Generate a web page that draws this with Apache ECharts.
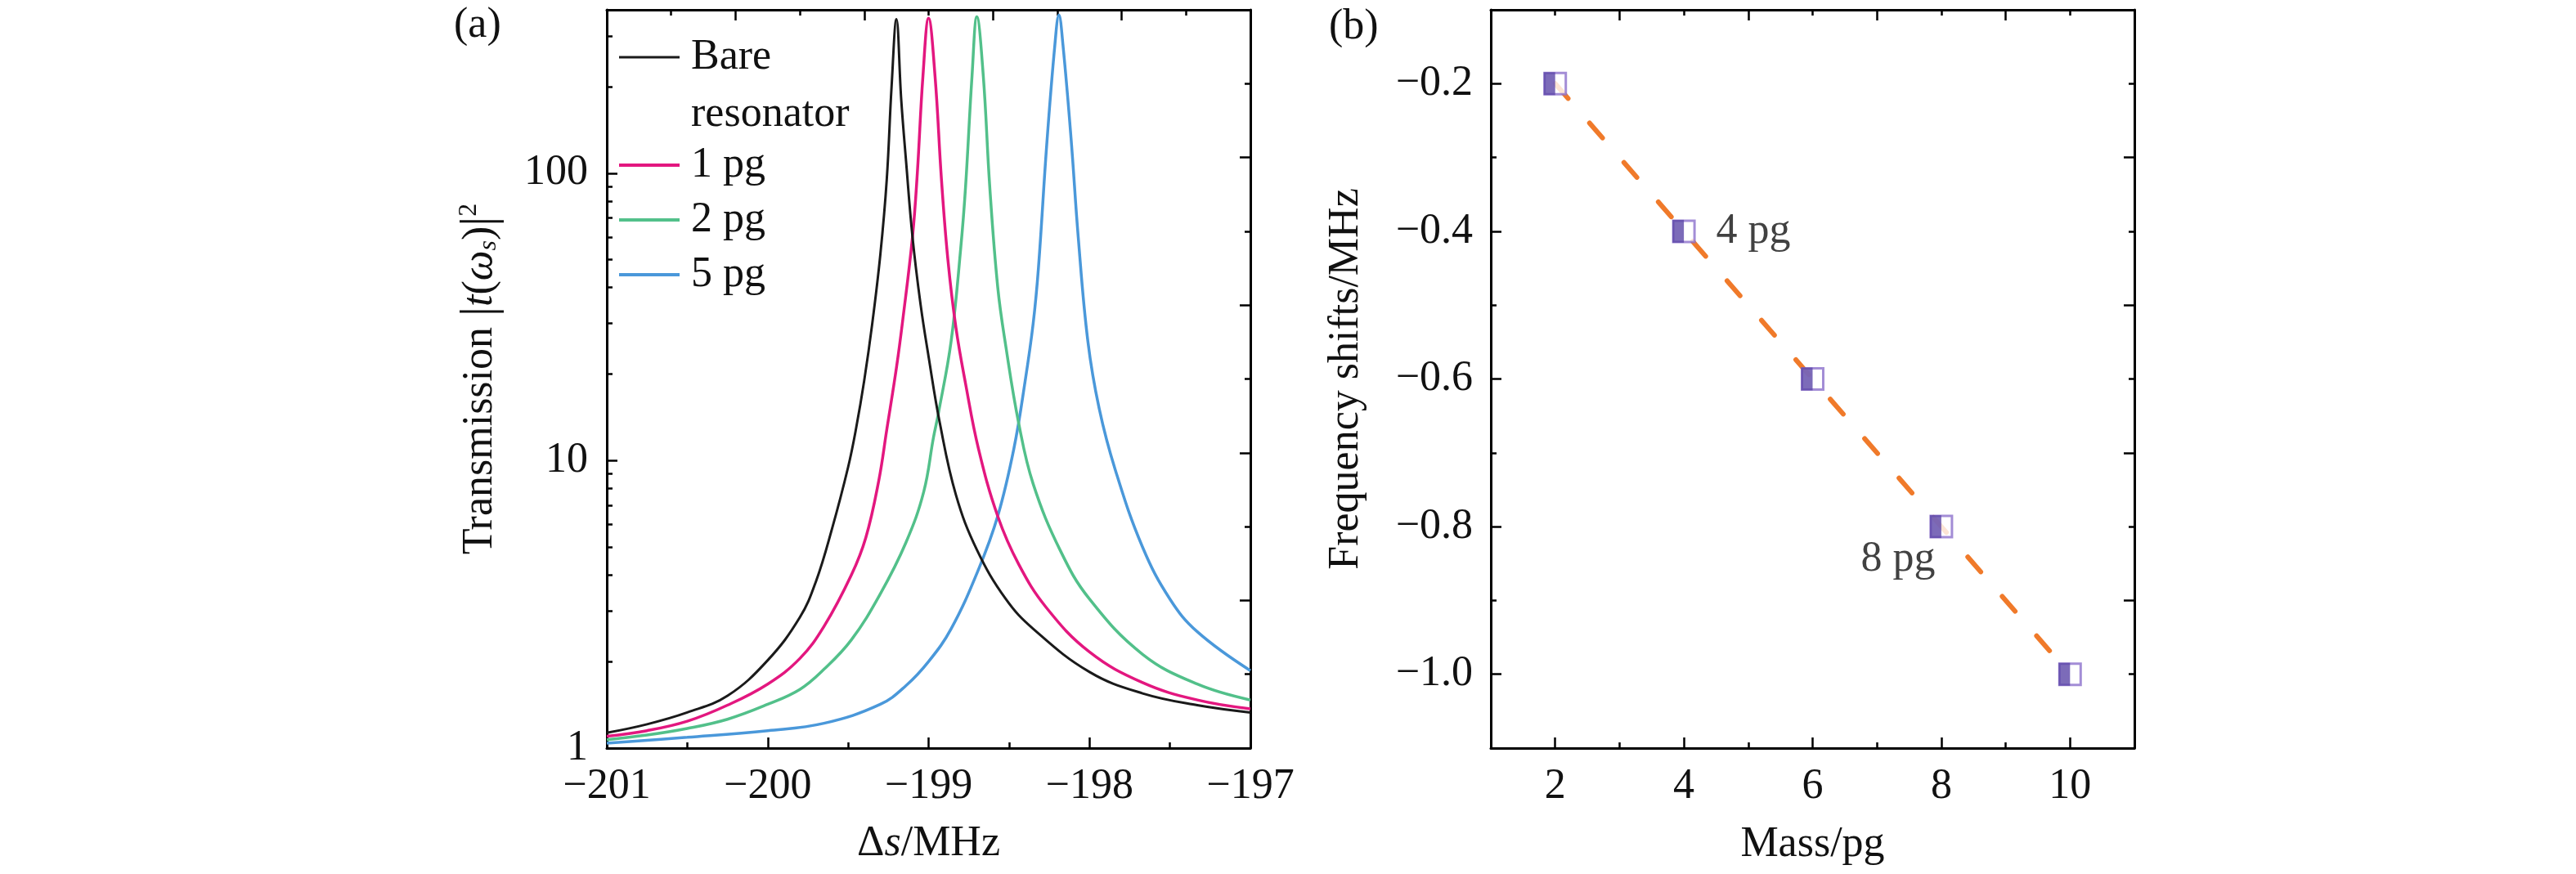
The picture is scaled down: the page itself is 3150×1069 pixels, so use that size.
<!DOCTYPE html>
<html>
<head>
<meta charset="utf-8">
<title>Transmission and frequency shifts</title>
<script src="https://cdn.jsdelivr.net/npm/echarts@6/dist/echarts.min.js"></script>
<style>
  html, body { margin: 0; padding: 0; background: #fff; }
  #main { width: 3150px; height: 1069px; }
</style>
</head>
<body>
<div id="main"></div>
<script>
var FONT = '"Liberation Serif", "Times New Roman", serif';

// (a) transmission spectra (detuning in MHz, |t|^2)
var bareDetuning = [-201, -200.75, -200.5, -200.25, -200, -199.8, -199.7, -199.6, -199.5, -199.45, -199.4, -199.35, -199.3, -199.26, -199.23, -199.2, -199.17, -199.14, -199.1, -199.05, -199, -198.93, -198.83, -198.7, -198.52, -198.35, -198, -197.67, -197.33, -197];
var bareTransmission = [1.13, 1.21, 1.33, 1.52, 2.02, 2.85, 3.8, 5.8, 9.5, 13, 19, 30, 52, 95, 200, 343, 180, 110, 60, 35, 23, 13.5, 7.6, 4.9, 3.3, 2.6, 1.84, 1.55, 1.41, 1.33];

var pg1Detuning = [-201, -200.75, -200.5, -200.25, -200, -199.8, -199.65, -199.48, -199.39, -199.31, -199.26, -199.2, -199.16, -199.1, -199.07, -199.035, -199, -198.96, -198.92, -198.88, -198.83, -198.77, -198.69, -198.57, -198.44, -198.27, -198, -197.67, -197.33, -197];
var pg1Transmission = [1.1, 1.15, 1.24, 1.41, 1.67, 2.05, 2.65, 4.0, 5.4, 8.5, 12.8, 21, 31, 60, 100, 218, 346, 218, 95, 50, 29, 18.5, 11, 6.4, 4.36, 3.09, 2.16, 1.69, 1.47, 1.37];

var pg2Detuning = [-201, -200.75, -200.5, -200.25, -200, -199.8, -199.65, -199.48, -199.3, -199.14, -199.03, -198.97, -198.94, -198.86, -198.8, -198.77, -198.73, -198.7, -198.66, -198.62, -198.57, -198.52, -198.44, -198.35, -198.18, -198, -197.67, -197.33, -197];
var pg2Transmission = [1.07, 1.11, 1.17, 1.26, 1.42, 1.6, 1.88, 2.38, 3.44, 5.2, 7.8, 12, 14.5, 26, 55, 90, 218, 350, 218, 90, 40, 25, 13.5, 8.3, 4.85, 3.3, 2.12, 1.67, 1.47];

var pg5Detuning = [-201, -200.5, -200, -199.65, -199.3, -199.14, -199, -198.86, -198.69, -198.57, -198.47, -198.4, -198.35, -198.317, -198.266, -198.215, -198.19, -198.165, -198.114, -198.07, -198.01, -197.94, -197.84, -197.67, -197.5, -197.33, -197];
var pg5Transmission = [1.04, 1.09, 1.15, 1.22, 1.42, 1.65, 2.0, 2.6, 4.18, 6.42, 11, 18.9, 30, 47, 125, 280, 355, 280, 131, 60, 26, 15.2, 9.3, 5.0, 3.3, 2.54, 1.86];

var transmissionTicks = [1, 10, 100];
var transmissionMinorTicks = [2, 3, 4, 5, 6, 7, 8, 9, 20, 30, 40, 50, 60, 70, 80, 90, 200, 300];

// (b) frequency shift against added mass
var masses = [2, 4, 6, 8, 10];
var shifts = [-0.2, -0.4, -0.6, -0.8, -1.0];
var massTicks = [2, 4, 6, 8, 10];
var massMinorTicks = [3, 5, 7, 9];
var shiftTicks = [-1.0, -0.8, -0.6, -0.4, -0.2];
var shiftMinorTicks = [-0.9, -0.7, -0.5, -0.3];
var noteMass = [4, 8];
var noteShift = [-0.4, -0.8];
var noteText = ['4 pg', '8 pg'];

function zip(xs, ys) {
  return xs.map(function (x, i) { return [x, ys[i]]; });
}

function minus(v, digits) {
  var s = digits == null ? String(Math.abs(v)) : Math.abs(v).toFixed(digits);
  return (v < 0 ? '\u2212' : '') + s;
}

var lineBlack = { color: '#000', width: 3 };
var tickStyle = { color: '#000', width: 2.5 };
var labelText = { fontFamily: FONT, fontSize: 52, color: '#111', lineHeight: 60 };

function mirrorAxis(gridIndex, position) {
  return {
    type: 'value', gridIndex: gridIndex, position: position,
    min: 0, max: 10, interval: 2,
    axisLine: { show: true, onZero: false, lineStyle: lineBlack },
    axisTick: { show: true, inside: true, length: 13, lineStyle: tickStyle },
    minorTick: { show: true, splitNumber: 2, length: 7, lineStyle: tickStyle },
    axisLabel: { show: false },
    splitLine: { show: false },
    minorSplitLine: { show: false }
  };
}

function tickOnlyAxis(type, gridIndex, position, min, max, values) {
  return {
    type: type, gridIndex: gridIndex, position: position, min: min, max: max,
    axisLine: { show: false, onZero: false },
    axisTick: { show: true, inside: true, length: 7, lineStyle: tickStyle, customValues: values },
    axisLabel: { show: false },
    splitLine: { show: false }
  };
}

function curve(name, xs, ys, color, width, z) {
  return {
    name: name, type: 'line', xAxisIndex: 0, yAxisIndex: 0,
    data: zip(xs, ys), symbol: 'none', smooth: 0.4, silent: true,
    lineStyle: { color: color, width: width }, itemStyle: { color: color }, z: z
  };
}

var myChart = echarts.init(document.getElementById('main'), null, { renderer: 'canvas' });

var option = {
  backgroundColor: '#fff',
  animation: false,
  title: [
    { text: '(a)', left: 555, top: 0, padding: 0, textStyle: { fontFamily: FONT, fontSize: 52, fontWeight: 'normal', color: '#111', lineHeight: 62 } },
    { text: '(b)', left: 1625, top: 2, padding: 0, textStyle: { fontFamily: FONT, fontSize: 52, fontWeight: 'normal', color: '#111', lineHeight: 62 } }
  ],
  legend: [
    {
      // blank first line keeps "Bare" level with the key line
      data: ['Bare resonator'], left: 757, top: -35, padding: 0, orient: 'vertical',
      icon: 'rect', itemWidth: 74, itemHeight: 3, selectedMode: false,
      formatter: function () { return ' \nBare\nresonator'; },
      textStyle: { fontFamily: FONT, fontSize: 52, color: '#111', lineHeight: 70, padding: [0, 0, 0, 9] }
    },
    {
      data: ['1 pg', '2 pg', '5 pg'], left: 757, top: 173, padding: 0, orient: 'vertical',
      icon: 'rect', itemWidth: 74, itemHeight: 4, itemGap: 9, selectedMode: false,
      textStyle: { fontFamily: FONT, fontSize: 52, color: '#111', lineHeight: 58, padding: [0, 0, 0, 9] }
    }
  ],
  grid: [
    { left: 742, top: 12, width: 787, height: 903, outerBoundsMode: 'none' },
    { left: 1823, top: 12, width: 787, height: 903, outerBoundsMode: 'none' }
  ],
  xAxis: [
    {
      type: 'value', gridIndex: 0, position: 'bottom', min: -201, max: -197, interval: 1,
      name: '\u0394{i|s}/MHz', nameLocation: 'middle', nameGap: 87, nameMoveOverlap: false,
      nameTextStyle: { fontFamily: FONT, fontSize: 52, color: '#111', lineHeight: 60,
        rich: { i: { fontFamily: FONT, fontSize: 52, fontStyle: 'italic', color: '#111' } } },
      axisLine: { show: true, onZero: false, lineStyle: lineBlack },
      axisTick: { show: true, inside: true, length: 13, lineStyle: tickStyle },
      minorTick: { show: true, splitNumber: 2, length: 7, lineStyle: tickStyle },
      axisLabel: Object.assign({ margin: 17, formatter: function (v) { return minus(v); } }, labelText),
      splitLine: { show: false }
    },
    mirrorAxis(0, 'top'),
    {
      type: 'value', gridIndex: 1, position: 'bottom', min: 1, max: 11,
      name: 'Mass/pg', nameLocation: 'middle', nameGap: 88, nameMoveOverlap: false,
      nameTextStyle: { fontFamily: FONT, fontSize: 52, color: '#111', lineHeight: 60 },
      axisLine: { show: true, onZero: false, lineStyle: lineBlack },
      axisTick: { show: true, inside: true, length: 13, lineStyle: tickStyle, customValues: massTicks },
      axisLabel: Object.assign({ margin: 17, customValues: massTicks }, labelText),
      splitLine: { show: false }
    },
    tickOnlyAxis('value', 1, 'bottom', 1, 11, massMinorTicks),
    mirrorAxis(1, 'top')
  ],
  yAxis: [
    {
      type: 'log', logBase: 10, gridIndex: 0, position: 'left', min: 1, max: 370,
      name: 'Transmission {b||}{i|t}({i|\u03c9}{sub|s}){b||}{sup|2}',
      nameLocation: 'middle', nameRotate: 90, nameGap: 125, nameMoveOverlap: false,
      nameTextStyle: { fontFamily: FONT, fontSize: 52, color: '#111', lineHeight: 60,
        rich: {
          i: { fontFamily: FONT, fontSize: 52, fontStyle: 'italic', color: '#111' },
          b: { fontFamily: FONT, fontSize: 60, color: '#111' },
          sub: { fontFamily: FONT, fontSize: 32, fontStyle: 'italic', color: '#111', padding: [22, 0, 0, 0] },
          sup: { fontFamily: FONT, fontSize: 32, color: '#111', padding: [0, 0, 26, 0] }
        } },
      axisLine: { show: true, onZero: false, lineStyle: lineBlack },
      axisTick: { show: true, inside: true, length: 13, lineStyle: tickStyle, customValues: transmissionTicks },
      axisLabel: Object.assign({ margin: 23, customValues: transmissionTicks }, labelText),
      splitLine: { show: false }
    },
    tickOnlyAxis('log', 0, 'left', 1, 370, transmissionMinorTicks),
    mirrorAxis(0, 'right'),
    {
      type: 'value', gridIndex: 1, position: 'left', min: -1.1, max: -0.1,
      name: 'Frequency shifts/MHz', nameLocation: 'middle', nameRotate: 90, nameGap: 147, nameMoveOverlap: false,
      nameTextStyle: { fontFamily: FONT, fontSize: 52, color: '#111', lineHeight: 60 },
      axisLine: { show: true, onZero: false, lineStyle: lineBlack },
      axisTick: { show: true, inside: true, length: 13, lineStyle: tickStyle, customValues: shiftTicks },
      axisLabel: Object.assign({ margin: 22, customValues: shiftTicks, formatter: function (v) { return minus(v, 1); } }, labelText),
      splitLine: { show: false }
    },
    tickOnlyAxis('value', 1, 'left', -1.1, -0.1, shiftMinorTicks),
    mirrorAxis(1, 'right')
  ],
  series: [
    curve('Bare resonator', bareDetuning, bareTransmission, '#1a1a1a', 3, 5),
    curve('1 pg', pg1Detuning, pg1Transmission, '#E3177F', 3.5, 4),
    curve('2 pg', pg2Detuning, pg2Transmission, '#52C08A', 3.5, 3),
    curve('5 pg', pg5Detuning, pg5Transmission, '#4A98DA', 3.5, 2),
    {
      name: 'fit', type: 'line', xAxisIndex: 2, yAxisIndex: 3,
      data: zip(masses, shifts), symbol: 'none', silent: true,
      lineStyle: { color: '#F07A2A', width: 6, type: [24, 40], cap: 'round' }
    },
    {
      name: 'shift box', type: 'scatter', xAxisIndex: 2, yAxisIndex: 3,
      data: zip(masses, shifts), symbol: 'rect', symbolSize: 26, silent: true,
      itemStyle: { color: '#fff', borderColor: '#8C70CC', borderWidth: 3 }, z: 6
    },
    {
      name: 'shift fill', type: 'scatter', xAxisIndex: 2, yAxisIndex: 3,
      data: zip(masses, shifts), symbol: 'rect', symbolSize: [14, 28], symbolOffset: [-7, 0], silent: true,
      itemStyle: { color: '#5B46A8' }, z: 7
    },
    {
      name: 'notes', type: 'scatter', xAxisIndex: 2, yAxisIndex: 3, symbolSize: 0, silent: true,
      data: noteMass.map(function (m, i) {
        return {
          value: [m, noteShift[i]],
          label: {
            show: true, position: 'inside', align: 'center', verticalAlign: 'middle',
            offset: i === 0 ? [85, 0] : [-53, 40],
            formatter: noteText[i], fontFamily: FONT, fontSize: 52, color: '#111'
          }
        };
      }),
      z: 8
    }
  ]
};

myChart.setOption(option);
</script>
</body>
</html>
